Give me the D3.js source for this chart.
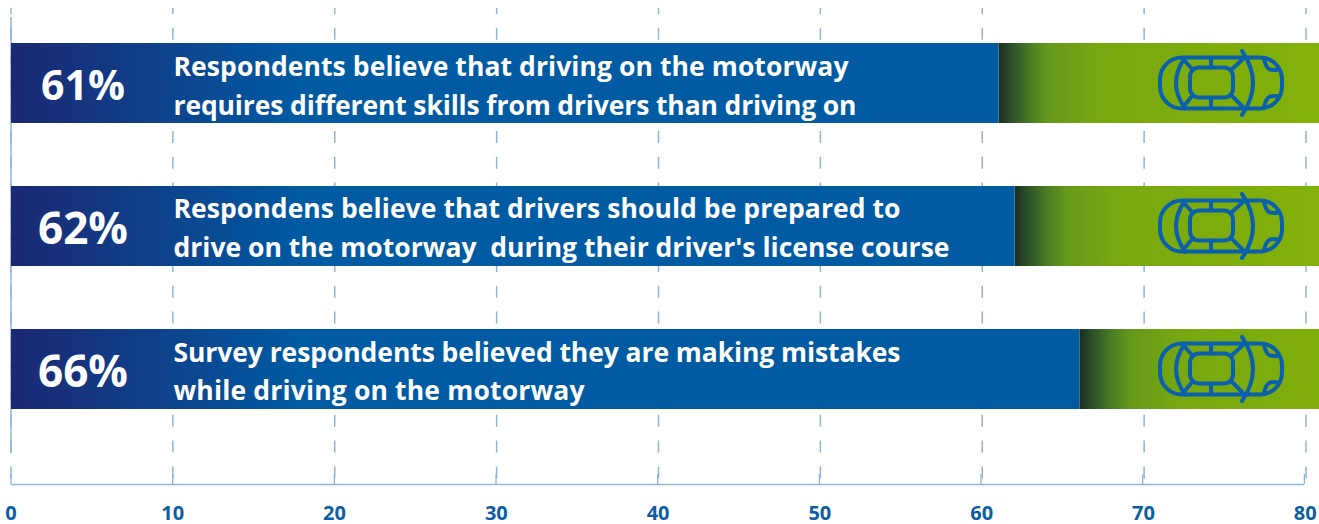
<!DOCTYPE html>
<html><head><meta charset="utf-8">
<script src="https://cdn.jsdelivr.net/npm/d3@7"></script>
<style>
html,body{margin:0;padding:0;background:#fff;overflow:hidden}
text{font-family:"Open Sans",sans-serif;white-space:pre}
</style></head><body>
<script>
const values = [61, 62, 66];
const pctLabels = ["61%", "62%", "66%"];
const firstLines = [
  "Respondents believe that driving on the motorway",
  "Respondens believe that drivers should be prepared to",
  "Survey respondents believed they are making mistakes"
];
const secondLines = [
  "requires different skills from drivers than driving on",
  "drive on the motorway  during their driver's license course",
  "while driving on the motorway"
];
const tickValues = [0, 10, 20, 30, 40, 50, 60, 70, 80];

// text fitting (style, not data)
const pctSize = [41, 44, 44];
const firstFit = [675, 727, 727];
const secondFit = [683, 776, 411];
const firstY = [33, 32, 33];
const secondY = [72, 71, 71];

const W = 1319, H = 524;
const x = d3.scaleLinear().domain([0, 80]).range([11, 1306]);
const y = d3.scaleBand().domain(d3.range(values.length)).range([43, 409]).paddingInner(63 / 143).paddingOuter(0);
const barH = y.bandwidth();
const svg = d3.select("body").append("svg").attr("width", W).attr("height", H).style("display", "block");
const defs = svg.append("defs");

const blue = defs.append("linearGradient").attr("id", "blueG").attr("gradientUnits", "userSpaceOnUse")
  .attr("x1", x(0)).attr("x2", x(18)).attr("y1", 0).attr("y2", 0);
blue.append("stop").attr("offset", 0).attr("stop-color", "#1c2873");
blue.append("stop").attr("offset", 1).attr("stop-color", "#005ba3");

values.forEach((d, i) => {
  const g = defs.append("linearGradient").attr("id", "greenG" + i).attr("gradientUnits", "userSpaceOnUse")
    .attr("x1", x(d)).attr("x2", x(d) + 320).attr("y1", 0).attr("y2", 0);
  [[0, "#1a2e22"], [0.03, "#27472a"], [0.1, "#4a7d22"], [0.16, "#66991c"], [0.32, "#78a80f"], [1, "#83b20a"]].forEach(s =>
    g.append("stop").attr("offset", s[0]).attr("stop-color", s[1]));
});

// grid + axis
const grid = svg.append("g").attr("stroke", "#8fb6d6").attr("fill", "none");
grid.selectAll("line.g").data(tickValues).join("line").attr("class", "g")
  .attr("x1", d => x(d)).attr("x2", d => x(d))
  .attr("y1", 8).attr("y2", 484)
  .attr("stroke-width", 1.5)
  .attr("stroke-dasharray", "12 13.8").attr("stroke-dashoffset", 6);
grid.append("line").attr("x1", x(0)).attr("x2", x(0)).attr("y1", 17).attr("y2", 453).attr("stroke-width", 1.5);
grid.append("line").attr("x1", x(0)).attr("x2", x(80) - 2).attr("y1", 484.5).attr("y2", 484.5).attr("stroke-width", 1.5);
grid.selectAll("line.t").data(tickValues).join("line").attr("class", "t")
  .attr("x1", d => x(d) - d * 0.02).attr("x2", d => x(d) - d * 0.02)
  .attr("y1", 474).attr("y2", 484).attr("stroke-width", 1.3);

// bars
const row = svg.append("g").selectAll("g").data(values).join("g")
  .attr("transform", (d, i) => `translate(0,${y(i)})`);
row.append("rect").attr("x", d => x(d)).attr("width", d => W - x(d)).attr("height", barH).attr("fill", (d, i) => `url(#greenG${i})`);
row.append("rect").attr("x", x(0)).attr("width", d => x(d) - x(0)).attr("height", barH).attr("fill", "url(#blueG)");

// car icon
const carPaths = [
  "M-39,-25.5H39A22,22 0 0 1 61,-3.5V3.5A22,22 0 0 1 39,25.5H-39A22,22 0 0 1 -61,3.5V-3.5A22,22 0 0 1 -39,-25.5Z",
  "M-36,-25.5Q-54,0 -36,25.5",
  "M-22,-15.5H3A9,9 0 0 1 12,-6.5V5.5A9,9 0 0 1 3,14.5H-22A9,9 0 0 1 -31,5.5V-6.5A9,9 0 0 1 -22,-15.5Z",
  "M-38,-24L-28,-13M-38,24L-28,12M22,-24L10,-13M22,24L10,12M-10,-25V-15.5M-10,25V14.5",
  "M21,-32Q43,0 21,32",
  "M43,-24Q45,-15 49,-13.5Q53,-12.5 57,-13.5M43,24Q45,15 49,13.5Q53,12.5 57,13.5"
];
const car = row.append("g").attr("transform", `translate(${x(74.75)},${barH / 2})`)
  .attr("fill", "none").attr("stroke", "#0a60ac").attr("stroke-width", 4)
  .attr("stroke-linecap", "round").attr("stroke-linejoin", "round");
carPaths.forEach(p => car.append("path").attr("d", p));

// text
row.append("text").attr("x", x(4.45)).attr("y", (d, i) => 57 + (pctSize[i] - 41) * 0.3).attr("text-anchor", "middle")
  .attr("fill", "#fff").attr("font-size", (d, i) => pctSize[i]).attr("font-weight", 700).text((d, i) => pctLabels[i]);
row.append("text").attr("x", 173.5).attr("y", (d, i) => firstY[i]).attr("fill", "#fff").attr("font-size", 26.5).attr("font-weight", 700)
  .attr("textLength", (d, i) => firstFit[i]).attr("lengthAdjust", "spacing")
  .text((d, i) => firstLines[i]);
row.append("text").attr("x", 173.5).attr("y", (d, i) => secondY[i]).attr("fill", "#fff").attr("font-size", 26.5).attr("font-weight", 700)
  .attr("textLength", (d, i) => secondFit[i]).attr("lengthAdjust", "spacing")
  .text((d, i) => secondLines[i]);

// tick labels
svg.append("g").selectAll("text").data(tickValues).join("text")
  .attr("x", d => x(d) - d * 0.01).attr("y", 520).attr("text-anchor", "middle")
  .attr("fill", "#0b5ea4").attr("font-size", 20).attr("font-weight", 700).text(d => d);
</script>
</body></html>
